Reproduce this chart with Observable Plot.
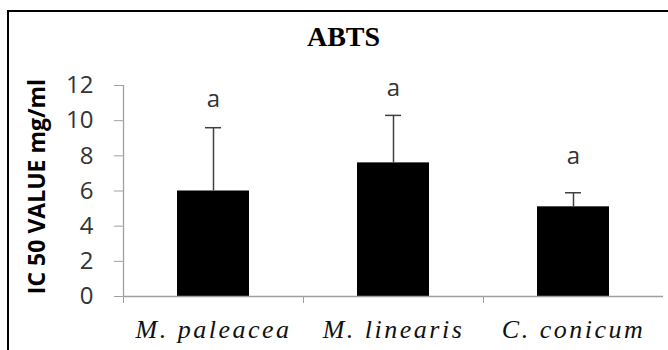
<!DOCTYPE html>
<html><head><meta charset="utf-8">
<script src="https://cdn.jsdelivr.net/npm/d3@7"></script>
<script src="https://cdn.jsdelivr.net/npm/@observablehq/plot@0.6"></script>
<style>
html,body{margin:0;padding:0;background:#fff;overflow:hidden}
#wrap{position:relative;width:668px;height:350px;overflow:hidden}
#wrap svg{position:absolute;left:0;top:0}
#frame{position:absolute;left:7px;top:10px;width:700px;height:400px;border-left:2px solid #000;border-top:2px solid #000;pointer-events:none}
g[font-style="italic"] text{letter-spacing:2.5px}
</style></head><body>
<div id="wrap"><div id="frame"></div></div>
<script>
const title = "ABTS";
const yLabel = "IC 50 VALUE mg/ml";
const species = ["M. paleacea", "M. linearis", "C. conicum"];
const means = [6.0, 7.6, 5.1];
const sds = [3.6, 2.7, 0.8];
const letters = ["a", "a", "a"];
const letterY = [10.8, 11.4, 7.55];
const yTicks = [0, 2, 4, 6, 8, 10, 12];

const data = species.map((name, i) => ({name, i, mean: means[i], top: means[i] + sds[i], letter: letters[i], ly: letterY[i]}));
const mid = d => d.i + 0.5;
const axisGray = "#a0a0a0";
const errColor = "#404040";

const chart = Plot.plot({
  width: 668, height: 350,
  marginLeft: 123, marginRight: 5, marginTop: 85, marginBottom: 54,
  style: {fontFamily: "'Open Sans', sans-serif", background: "transparent", overflow: "visible"},
  x: {type: "linear", domain: [0, species.length]},
  y: {domain: [0, 12]},
  marks: [
    Plot.rect(data, {x1: d => d.i, x2: d => d.i + 1, y1: 0, y2: "mean", insetLeft: 54, insetRight: 54, fill: "#000"}),
    Plot.ruleX(data, {x: mid, y1: "mean", y2: "top", stroke: errColor, strokeWidth: 1.5}),
    Plot.ruleY(data, {y: "top", x1: mid, x2: mid, insetLeft: -8, insetRight: -8, stroke: errColor, strokeWidth: 1.5}),
    Plot.ruleX([0], {stroke: axisGray, strokeWidth: 1.3}),
    Plot.ruleY([0], {stroke: axisGray, strokeWidth: 1.3}),
    Plot.axisY({ticks: yTicks, tickSize: 9, tickPadding: 21, stroke: axisGray, fill: "#333", fontSize: 24, label: null}),
    Plot.axisX({ticks: d3.range(species.length), tickSize: 7, stroke: axisGray, fill: "none", label: null}),
    Plot.text(data, {x: mid, text: "name", frameAnchor: "bottom", lineAnchor: "bottom", dy: 41, fontSize: 26, fontStyle: "italic", fontFamily: "'Liberation Serif', serif", fill: "#111"}),
    Plot.text(data, {x: mid, y: "ly", text: "letter", lineAnchor: "bottom", fontSize: 24, fill: "#333"}),
    Plot.text([title], {frameAnchor: "top", dx: -50, dy: -40, lineAnchor: "bottom", fontFamily: "'Liberation Serif', serif", fontWeight: "bold", fontSize: 28, fill: "#000"}),
    Plot.text([yLabel], {frameAnchor: "left", textAnchor: "middle", rotate: -90, dx: -86, dy: -4.5, lineAnchor: "middle", fontWeight: "bold", fontSize: 23, fill: "#000"})
  ]
});
document.getElementById("wrap").prepend(chart);
</script>
</body></html>
